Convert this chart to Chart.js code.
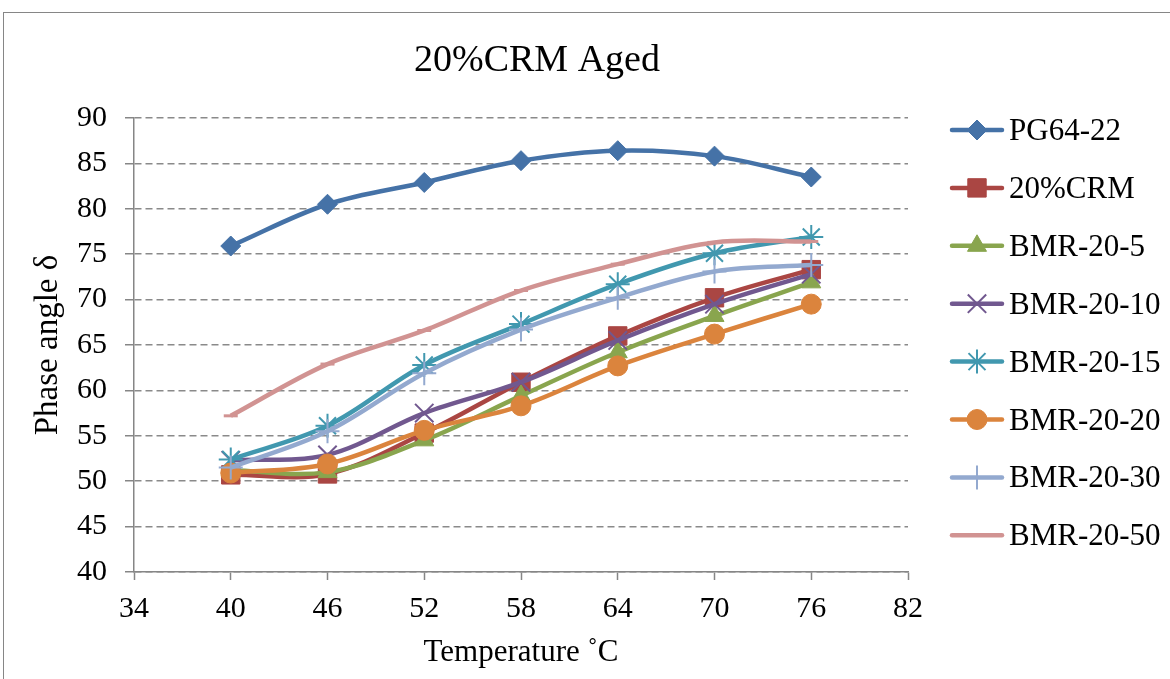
<!DOCTYPE html>
<html>
<head>
<meta charset="utf-8">
<script src="https://cdn.jsdelivr.net/npm/chart.js@4.4.0/dist/chart.umd.min.js"></script>
<style>
  html, body { margin: 0; padding: 0; background: #fff; overflow: hidden; }
  #marco { position: absolute; left: 3px; top: 12px; width: 1200px; height: 700px; border: 1.5px solid #868686; }
  #caja { position: absolute; left: 0; top: 0; width: 1170px; height: 679px; }
</style>
</head>
<body>
<div id="marco"></div>
<div id="caja"><canvas id="myChart" width="1170" height="679"></canvas></div>
<script>
// temperatura (x) y angulo de fase de cada ligante
const temperatura = [40, 46, 52, 58, 64, 70, 76];
const pg6422   = [75.9, 80.5, 82.9, 85.3, 86.4, 85.8, 83.5];
const crm20    = [50.7, 50.8, 55.3, 60.9, 66.0, 70.2, 73.3];
const bmr20_5  = [51.2, 51.0, 54.5, 59.4, 64.2, 68.2, 71.9];
const bmr20_10 = [52.3, 52.9, 57.5, 60.9, 65.5, 69.5, 72.8];
const bmr20_15 = [52.4, 56.1, 62.8, 67.3, 71.7, 75.1, 76.9];
const bmr20_20 = [50.9, 51.9, 55.6, 58.3, 62.7, 66.2, 69.5];
const bmr20_30 = [51.5, 55.5, 61.9, 66.7, 70.2, 73.1, 73.8];
const bmr20_50 = [57.2, 62.9, 66.6, 71.0, 73.9, 76.3, 76.4];

const nombres = ['PG64-22', '20%CRM', 'BMR-20-5', 'BMR-20-10', 'BMR-20-15', 'BMR-20-20', 'BMR-20-30', 'BMR-20-50'];
const series = [pg6422, crm20, bmr20_5, bmr20_10, bmr20_15, bmr20_20, bmr20_30, bmr20_50];
const colores = ['#4572A7', '#AA4643', '#89A54E', '#71588F', '#4198AF', '#DB843D', '#93A9CF', '#D19392'];
const marcadores = ['rectRot', 'rect', 'triangle', 'crossRot', 'star', 'circle', 'cross', 'line'];
const radios = [10, 13, 11, 13, 12, 10, 12, 7];
const bordes = [1, 1, 1, 2, 2, 1, 2, 3];

const fuente = 'Liberation Serif, Times New Roman, serif';

var datasets = series.map((valores, i) => ({
    label: nombres[i],
    data: valores.map((v, j) => ({x: temperatura[j], y: v})),
    borderColor: colores[i],
    backgroundColor: colores[i],
    pointBackgroundColor: colores[i],
    pointBorderColor: colores[i],
    borderWidth: 4.5,
    tension: 0.35,
    pointStyle: marcadores[i],
    pointRadius: radios[i],
    pointBorderWidth: bordes[i],
    order: series.length - i
}));

// titulo y leyenda dibujados a mano (estilo Excel: linea + marcador)
const titulo = {
    id: 'titulo',
    afterDraw(chart) {
        const ctx = chart.ctx;
        ctx.save();
        ctx.font = '38px ' + fuente;
        ctx.fillStyle = '#000';
        ctx.textAlign = 'center';
        ctx.textBaseline = 'alphabetic';
        ctx.fillText('20%CRM Aged', 537, 71);
        ctx.restore();
    }
};

const leyenda = {
    id: 'leyenda',
    afterDraw(chart) {
        const ctx = chart.ctx;
        chart.data.datasets.forEach((ds, i) => {
            const y = 130 + i * 57.9;
            ctx.save();
            ctx.strokeStyle = ds.borderColor;
            ctx.lineWidth = ds.borderWidth;
            ctx.lineCap = 'round';
            ctx.beginPath();
            ctx.moveTo(952, y);
            ctx.lineTo(1002, y);
            ctx.stroke();
            ctx.fillStyle = ds.pointBackgroundColor;
            ctx.strokeStyle = ds.pointBorderColor;
            ctx.lineWidth = ds.pointBorderWidth;
            ctx.lineCap = 'butt';
            if (Chart.helpers && Chart.helpers.drawPoint) {
                Chart.helpers.drawPoint(ctx, {pointStyle: ds.pointStyle, radius: ds.pointRadius, borderWidth: ds.pointBorderWidth, rotation: 0}, 977, y);
            }
            ctx.font = '31px ' + fuente;
            ctx.fillStyle = '#000';
            ctx.textAlign = 'left';
            ctx.textBaseline = 'alphabetic';
            ctx.fillText(ds.label, 1009, y + 10);
            ctx.restore();
        });
    }
};

var ctx = document.getElementById('myChart').getContext('2d');
var chart = new Chart(ctx, {
    type: 'line',
    data: { datasets: datasets },
    plugins: [titulo, leyenda],
    options: {
        responsive: false,
        animation: false,
        devicePixelRatio: 1,
        layout: { padding: { left: 29, top: 118, right: 262, bottom: 8 } },
        plugins: {
            legend: { display: false },
            title: { display: false },
            tooltip: { enabled: false }
        },
        scales: {
            x: {
                type: 'linear',
                min: 34,
                max: 82,
                afterFit: (s) => { s.height = 99; },
                ticks: { stepSize: 6, color: '#000', padding: 11, font: { family: fuente, size: 30 }, maxRotation: 0 },
                grid: { drawOnChartArea: false, drawTicks: true, tickLength: 8, color: '#868686', tickColor: '#868686', tickWidth: 1.5 },
                border: { color: '#868686', width: 1.5 },
                title: { display: true, text: 'Temperature ˚C', color: '#000', padding: 0, font: { family: fuente, size: 31 } }
            },
            y: {
                min: 40,
                max: 90,
                afterFit: (s) => { s.width = 105; },
                ticks: { stepSize: 5, color: '#000', padding: 18, font: { family: fuente, size: 30 } },
                grid: { color: '#8a8a8a', lineWidth: 1.5, tickLength: 9, tickColor: '#868686', tickWidth: 1.5, tickBorderDash: [] },
                border: { color: '#868686', width: 1.5, dash: [7, 4] },
                title: { display: true, text: 'Phase angle δ', color: '#000', padding: 0, font: { family: fuente, size: 33 } }
            }
        }
    }
});
</script>
</body>
</html>
